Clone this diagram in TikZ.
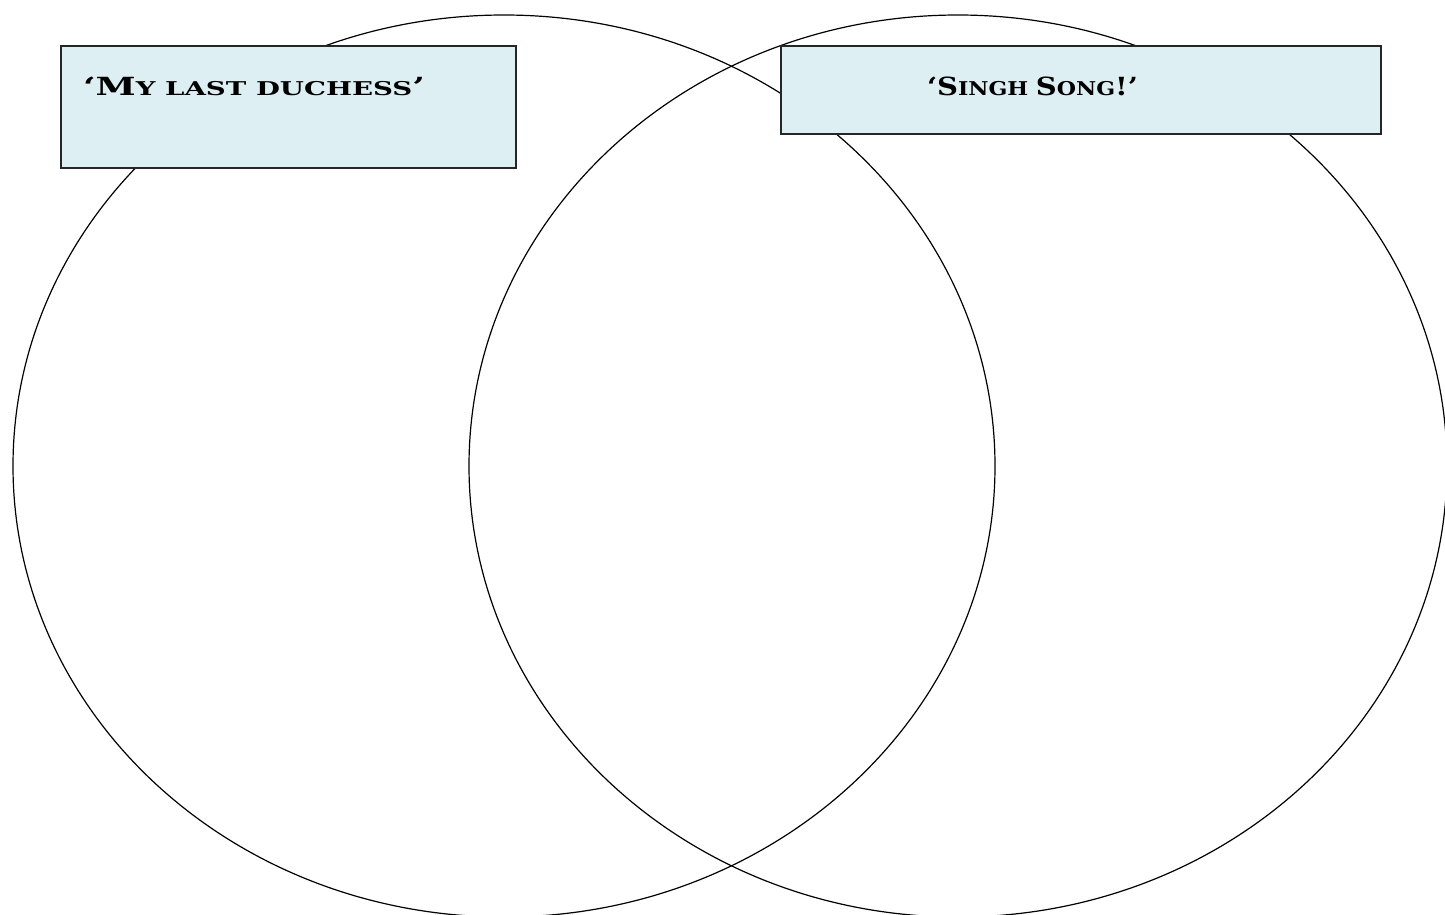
\documentclass[tikz,border=0pt]{standalone}
\usepackage{fontspec}
\newfontfamily\cpfont{DejaVu Serif}
\usetikzlibrary{shapes.geometric}
\definecolor{boxfill}{HTML}{DEEFF3}
\newcommand\bigc[1]{{\fontsize{25}{25}\selectfont #1}}
\newcommand\smc[1]{{\fontsize{19}{19}\selectfont #1}}
\tikzset{
  venn/.style={ellipse, draw=black, line width=1.2pt, inner sep=0pt, outer sep=0pt},
  titlebox/.style={rectangle, draw=black!85, fill=boxfill, line width=1.2pt, inner sep=0pt, outer sep=0pt},
  titletext/.style={font=\cpfont\bfseries, inner sep=0pt, outer sep=0pt}
}
\begin{document}
\begin{tikzpicture}[x=1pt,y=-1pt]
\useasboundingbox (0,0) rectangle (1445,914);
\clip (0,0) rectangle (1445,914);
\node[venn, minimum width=982pt, minimum height=902pt] (left) at (504,466) {};
\node[venn, minimum width=978pt, minimum height=902pt] (right) at (958,466) {};
\node[titlebox, minimum width=455pt, minimum height=122pt] (lbox) at (288.5,107) {};
\node[titlebox, minimum width=600pt, minimum height=88pt] (rbox) at (1081,90) {};
\node[titletext, anchor=base west] (ltext) at (83,95) {\resizebox{342pt}{\height}{\bigc{‘M}\smc{Y LAST DUCHESS}\bigc{’}}};
\node[titletext, anchor=base west] (rtext) at (927,95) {\resizebox{211pt}{\height}{\bigc{‘S}\smc{INGH }\bigc{S}\smc{ONG}\bigc{!’}}};
\end{tikzpicture}
\end{document}
